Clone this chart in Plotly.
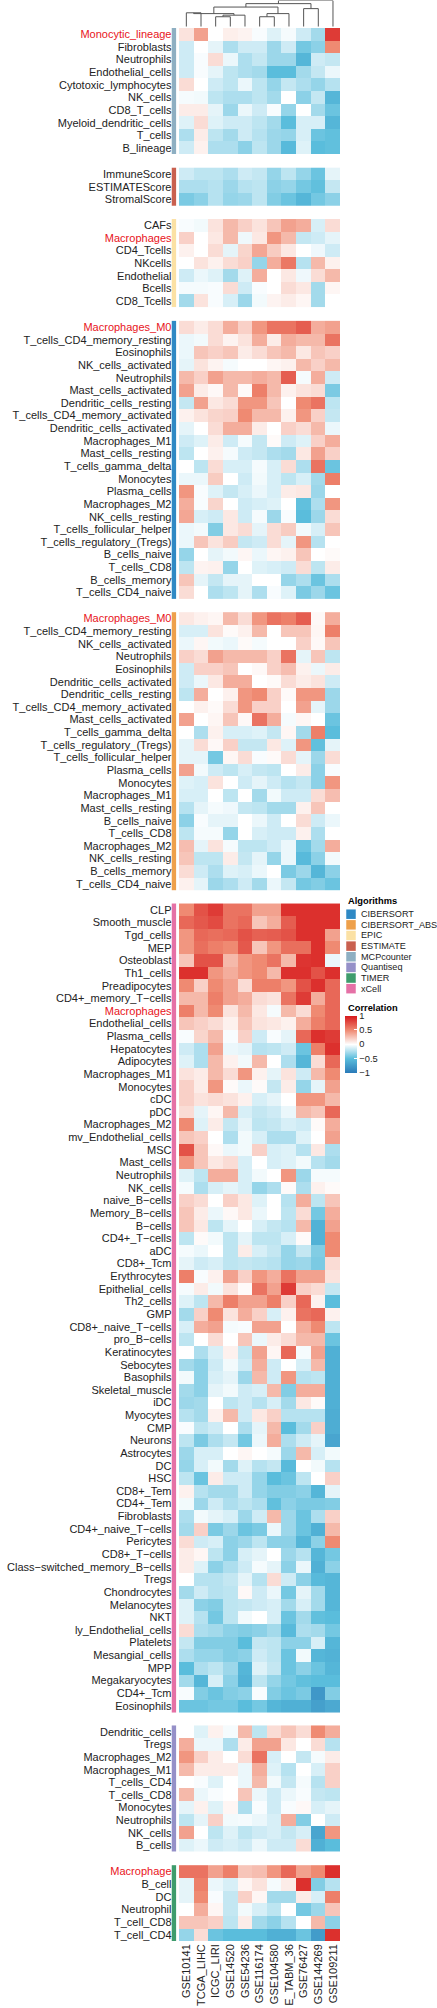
import plotly.graph_objects as go

W, H = 437, 2008
M = "\u2212"

datasets = ["GSE10141", "TCGA_LIHC", "ICGC_LIRI", "GSE14520", "GSE54236", "GSE116174",
            "GSE104580", "E_TABM_36", "GSE76427", "GSE144269", "GSE109211"]

# ---------------- MCPcounter ----------------
mcp_rows = ["Monocytic_lineage", "Fibroblasts", "Neutrophils", "Endothelial_cells", "Cytotoxic_lymphocytes",
            "NK_cells", "CD8_T_cells", "Myeloid_dendritic_cells", "T_cells", "B_lineage"]
mcp_vals = [
    [0.12, 0.4, 0, 0.07, 0.05, -0.02, -0.1, -0.03, -0.15, -0.28, 0.85],
    [-0.15, 0, -0.08, -0.25, -0.15, -0.15, -0.3, -0.15, -0.42, -0.35, 0.5],
    [-0.15, -0.02, 0.15, -0.06, -0.25, -0.18, -0.3, -0.3, -0.55, -0.15, -0.18],
    [-0.15, -0.02, -0.08, -0.2, -0.25, -0.28, -0.5, -0.5, -0.28, -0.18, -0.06],
    [0.15, 0, -0.15, -0.2, -0.06, -0.2, -0.32, -0.18, -0.25, -0.32, -0.22],
    [-0.03, -0.04, -0.2, -0.25, -0.25, -0.2, -0.28, 0, -0.35, -0.18, -0.55],
    [0.08, 0.08, -0.08, -0.3, -0.06, -0.15, -0.02, -0.32, 0, -0.28, -0.45],
    [-0.1, 0.15, -0.1, -0.15, -0.15, -0.2, -0.28, -0.5, -0.12, -0.12, -0.55],
    [-0.25, 0.08, -0.2, -0.28, -0.15, -0.22, -0.3, -0.32, -0.12, -0.45, -0.48],
    [-0.15, 0.06, -0.25, -0.25, -0.35, -0.2, -0.3, -0.52, -0.1, -0.5, -0.48],
]

# ---------------- ESTIMATE ----------------
est_rows = ["ImmuneScore", "ESTIMATEScore", "StromalScore"]
est_vals = [
    [-0.15, -0.2, -0.2, -0.25, -0.15, -0.18, -0.32, -0.2, -0.32, -0.45, -0.08],
    [-0.25, -0.25, -0.22, -0.3, -0.22, -0.2, -0.35, -0.32, -0.42, -0.48, -0.18],
    [-0.4, -0.35, -0.22, -0.32, -0.3, -0.2, -0.38, -0.45, -0.55, -0.42, -0.35],
]

# ---------------- EPIC ----------------
epic_rows = ["CAFs", "Macrophages", "CD4_Tcells", "NKcells", "Endothelial", "Bcells", "CD8_Tcells"]
epic_vals = [
    [-0.02, -0.04, 0.12, 0.3, 0.2, 0.12, 0.25, 0.4, 0.35, -0.12, 0.15],
    [0.2, 0, 0.1, 0.3, -0.05, 0.1, 0.45, 0.3, -0.18, -0.15, -0.08],
    [0.06, 0, 0.15, -0.08, 0.18, 0.38, 0.22, 0.1, 0, -0.05, -0.15],
    [0, 0.12, 0.06, 0.15, 0.2, -0.32, 0.35, 0.58, -0.22, 0.3, 0.06],
    [-0.15, -0.06, -0.1, -0.28, -0.1, 0.35, 0, 0.1, -0.05, 0.15, 0.3],
    [-0.03, -0.03, -0.02, 0.15, -0.15, -0.02, 0, 0.15, 0.1, -0.28, 0.04],
    [-0.28, 0.12, -0.02, -0.12, -0.3, -0.04, 0.05, 0.08, 0.04, -0.28, None],
]

# ---------------- CIBERSORT ----------------
cib_rows = ["Macrophages_M0", "T_cells_CD4_memory_resting", "Eosinophils", "NK_cells_activated", "Neutrophils",
            "Mast_cells_activated", "Dendritic_cells_resting", "T_cells_CD4_memory_activated",
            "Dendritic_cells_activated", "Macrophages_M1", "Mast_cells_resting", "T_cells_gamma_delta",
            "Monocytes", "Plasma_cells", "Macrophages_M2", "NK_cells_resting", "T_cells_follicular_helper",
            "T_cells_regulatory_(Tregs)", "B_cells_naive", "T_cells_CD8", "B_cells_memory", "T_cells_CD4_naive"]
cib_vals = [
    [0.15, 0.08, 0.15, 0.35, 0.2, 0.45, 0.6, 0.6, 0.7, 0.35, 0.4],
    [-0.06, -0.04, 0.15, 0.05, 0.12, 0.35, 0.08, 0.35, 0.3, 0.3, 0.6],
    [-0.06, 0.25, 0.2, 0.25, 0.08, 0.15, 0.25, 0.3, 0.1, 0.25, 0.2],
    [-0.08, 0.12, 0.05, -0.03, 0, 0, 0.04, 0.06, 0.3, 0.2, 0.3],
    [0.3, 0.2, 0.4, 0.3, 0.3, 0.35, 0.3, 0.7, -0.03, 0.35, -0.15],
    [0.4, 0.08, 0.03, 0.3, 0.02, 0.55, 0.3, 0.06, 0.12, 0.15, -0.4],
    [-0.18, 0.4, 0.1, 0.15, 0.45, 0.45, 0.25, 0, 0.5, 0.6, -0.2],
    [0.06, 0.12, 0.18, 0.2, 0.5, 0.3, 0.3, 0.06, 0.45, 0.2, -0.18],
    [-0.08, 0, 0.15, 0.35, 0.35, 0.08, 0, 0.2, 0.15, 0.3, -0.06],
    [-0.15, -0.1, 0.08, -0.15, -0.03, -0.18, 0.02, -0.15, -0.1, 0.2, 0.35],
    [-0.2, 0, 0.06, -0.03, -0.15, -0.18, -0.25, -0.28, 0.1, 0.4, 0.2],
    [0, -0.2, 0.15, -0.12, -0.12, -0.03, -0.12, 0.15, -0.25, 0.6, -0.45],
    [-0.06, -0.06, 0.22, 0, -0.15, -0.04, -0.12, -0.2, -0.12, -0.28, 0.55],
    [0.45, -0.02, -0.1, -0.18, -0.12, -0.06, -0.12, 0.08, 0.1, -0.3, 0],
    [0.35, -0.02, 0.18, 0, -0.15, -0.12, -0.1, 0, -0.48, -0.25, 0.45],
    [0.38, -0.12, -0.15, 0.1, -0.15, -0.03, -0.3, -0.02, -0.5, -0.3, 0.15],
    [-0.06, -0.04, -0.38, 0.1, 0.15, -0.08, 0.15, 0.22, -0.04, -0.12, 0.25],
    [-0.06, 0.25, 0.12, 0.22, -0.18, -0.15, 0.15, -0.08, 0.45, -0.22, 0],
    [-0.32, 0, -0.08, -0.04, 0.04, -0.06, 0.04, 0.06, 0.25, 0, 0.02],
    [-0.2, 0.05, 0.06, -0.32, 0, -0.1, -0.12, -0.15, 0.15, -0.2, 0.08],
    [0.25, -0.08, -0.18, -0.08, -0.08, 0, 0, -0.32, -0.25, -0.45, -0.25],
    [0.15, 0, -0.25, -0.2, -0.08, -0.25, -0.02, -0.1, -0.4, -0.3, -0.45],
]

# ---------------- CIBERSORT_ABS ----------------
abs_rows = ["Macrophages_M0", "T_cells_CD4_memory_resting", "NK_cells_activated", "Neutrophils", "Eosinophils",
            "Dendritic_cells_activated", "Dendritic_cells_resting", "T_cells_CD4_memory_activated",
            "Mast_cells_activated", "T_cells_gamma_delta", "T_cells_regulatory_(Tregs)",
            "T_cells_follicular_helper", "Plasma_cells", "Monocytes", "Macrophages_M1", "Mast_cells_resting",
            "B_cells_naive", "T_cells_CD8", "Macrophages_M2", "NK_cells_resting", "B_cells_memory",
            "T_cells_CD4_naive"]
abs_vals = [
    [0.1, 0.06, 0.04, 0.3, 0.15, 0.45, 0.6, 0.55, 0.7, 0.03, 0.35],
    [-0.12, -0.12, 0.12, 0.02, 0.06, 0.3, 0, 0.25, 0.25, 0.04, 0.55],
    [-0.06, 0.04, -0.04, -0.06, 0.02, -0.03, 0, 0, 0.2, 0.03, 0.25],
    [0.2, 0.15, 0.4, 0.3, 0.3, 0.3, 0.2, 0.6, -0.08, 0.25, -0.2],
    [-0.15, 0.2, 0.2, 0.25, 0, 0.03, 0.2, 0.28, 0.06, -0.06, 0.08],
    [-0.15, -0.06, 0.1, 0.35, 0.35, 0, 0.02, 0.15, 0.08, 0.12, -0.15],
    [-0.2, 0.35, 0, 0.06, 0.45, 0.5, 0.2, 0.02, 0.45, 0.45, -0.3],
    [0, 0.06, 0.02, 0.15, 0.45, 0.2, 0.2, 0, 0.4, -0.08, -0.3],
    [0.4, 0, 0.04, 0.25, 0.03, 0.6, 0.35, -0.03, 0.04, 0, -0.45],
    [0, -0.25, 0.06, -0.12, -0.12, -0.1, -0.18, 0.04, -0.28, 0.55, -0.5],
    [-0.08, 0.15, 0.03, 0.2, -0.18, -0.18, 0.1, -0.1, 0.45, -0.48, -0.08],
    [-0.08, -0.08, -0.42, 0.04, 0.15, -0.02, 0.02, 0.15, -0.08, -0.3, 0.15],
    [0.4, -0.04, -0.15, -0.2, -0.12, -0.18, -0.2, 0, 0.08, -0.35, -0.02],
    [-0.1, -0.12, 0.12, 0, -0.15, -0.08, -0.15, -0.22, -0.18, -0.35, 0.45],
    [-0.12, -0.12, 0, -0.2, 0, -0.28, -0.04, -0.15, -0.15, 0.15, 0.28],
    [-0.22, -0.08, -0.03, -0.05, -0.18, -0.2, -0.28, -0.28, 0.06, 0.25, 0],
    [-0.35, -0.02, -0.08, -0.08, 0, -0.06, -0.15, 0, 0.15, -0.15, -0.06],
    [-0.2, -0.03, -0.03, -0.32, 0, -0.12, -0.15, -0.15, 0.06, -0.25, 0],
    [0.28, -0.08, 0.12, -0.03, -0.2, -0.2, -0.15, -0.06, -0.45, -0.28, 0.35],
    [0.25, -0.2, -0.2, 0.08, -0.18, -0.08, -0.32, -0.06, -0.52, -0.35, -0.04],
    [0.15, -0.15, -0.25, -0.1, -0.12, -0.06, 0, -0.4, -0.3, -0.55, -0.35],
    [0.06, -0.08, -0.3, -0.25, -0.15, -0.28, -0.06, -0.18, -0.42, -0.38, -0.45],
]

# ---------------- xCell ----------------
xcell_rows = ["CLP", "Smooth_muscle", "Tgd_cells", "MEP", "Osteoblast", "Th1_cells", "Preadipocytes",
              "CD4+_memory_T" + M + "cells", "Macrophages", "Endothelial_cells", "Plasma_cells", "Hepatocytes",
              "Adipocytes", "Macrophages_M1", "Monocytes", "cDC", "pDC", "Macrophages_M2",
              "mv_Endothelial_cells", "MSC", "Mast_cells", "Neutrophils", "NK_cells", "naive_B" + M + "cells",
              "Memory_B" + M + "cells", "B" + M + "cells", "CD4+_T" + M + "cells", "aDC", "CD8+_Tcm",
              "Erythrocytes", "Epithelial_cells", "Th2_cells", "GMP", "CD8+_naive_T" + M + "cells",
              "pro_B" + M + "cells", "Keratinocytes", "Sebocytes", "Basophils", "Skeletal_muscle", "iDC",
              "Myocytes", "CMP", "Neurons", "Astrocytes", "DC", "HSC", "CD8+_Tem", "CD4+_Tem", "Fibroblasts",
              "CD4+_naive_T" + M + "cells", "Pericytes", "CD8+_T" + M + "cells",
              "Class" + M + "switched_memory_B" + M + "cells", "Tregs", "Chondrocytes", "Melanocytes", "NKT",
              "ly_Endothelial_cells", "Platelets", "Mesangial_cells", "MPP", "Megakaryocytes", "CD4+_Tcm",
              "Eosinophils"]
xcell_vals = [
    [0.5, 0.75, 0.85, 0.6, 0.6, 0.4, 0.4, 0.9, 0.9, 0.9, 0.9],
    [0.65, 0.72, 0.78, 0.6, 0.65, 0.25, 0.35, 0.7, 0.9, 0.9, 0.9],
    [0.45, 0.65, 0.62, 0.65, 0.75, 0.68, 0.7, 0.75, 0.9, 0.9, 0.4],
    [0.45, 0.62, 0.55, 0.5, 0.72, 0.25, 0.45, 0.62, 0.62, 0.9, 0.5],
    [0.25, 0.75, 0.75, 0.3, 0.45, 0.5, 0.6, 0.3, 0.88, 0.9, -0.06],
    [0.9, 0.9, 0.45, 0.35, 0.45, 0.5, 0.3, 0.9, 0.9, 0.75, 0.9],
    [0.5, 0.2, 0.5, 0.4, 0.15, 0.55, 0.55, 0.45, 0.75, 0.9, 0.65],
    [0.3, 0.3, 0.55, 0.4, 0.35, 0.15, 0.12, 0.6, 0.85, 0.35, 0.65],
    [0.55, 0.3, 0.5, 0.12, 0.3, 0.1, -0.03, 0.3, 0.15, 0.5, 0.65],
    [0.25, 0.2, 0.15, 0.06, 0.25, 0.12, 0.1, 0.06, 0.35, 0.55, 0.65],
    [-0.02, 0.18, 0.3, -0.02, 0.2, -0.15, -0.02, -0.08, 0.65, 0.9, 0.85],
    [-0.15, -0.25, 0.4, -0.06, -0.08, -0.22, -0.2, -0.15, -0.45, 0.55, 0.9],
    [-0.1, -0.25, 0.3, 0.06, -0.04, 0.3, 0, -0.25, -0.55, 0.15, 0.65],
    [0.12, 0.08, 0.3, 0.15, 0.45, 0.06, -0.08, 0.12, -0.15, 0.3, 0.5],
    [0.2, 0.08, 0.45, 0.02, -0.06, 0.02, -0.18, 0.08, -0.32, -0.08, 0.4],
    [0.2, 0.12, 0.15, 0.12, 0.06, -0.12, -0.08, 0, 0.45, 0.45, 0.3],
    [0.15, -0.08, 0.04, 0.3, -0.12, -0.18, -0.15, -0.06, 0.3, 0.25, 0.65],
    [0.5, -0.1, 0.08, -0.18, -0.08, -0.2, -0.18, -0.12, -0.15, 0.02, 0.35],
    [0.25, 0.2, 0, -0.25, -0.04, -0.12, -0.25, -0.25, -0.1, 0, 0.4],
    [0.75, 0.25, 0.03, -0.06, -0.04, 0.2, -0.12, -0.1, -0.22, 0.1, -0.25],
    [0.45, 0.25, 0.1, 0.15, -0.12, 0, -0.12, -0.1, -0.04, -0.22, -0.28],
    [-0.1, -0.2, 0.35, 0.35, -0.12, -0.04, 0, 0.45, -0.3, -0.03, -0.03],
    [-0.03, -0.25, -0.12, -0.08, -0.12, -0.32, -0.25, 0.02, -0.25, 0.06, 0.02],
    [0.2, 0.15, 0, 0.2, 0.1, -0.1, 0, -0.22, 0.35, -0.2, 0.25],
    [0.25, 0.08, -0.06, 0.03, 0.1, -0.06, 0, -0.2, 0.15, -0.42, 0.35],
    [0.25, 0.1, -0.2, -0.08, 0, -0.12, -0.18, -0.22, 0.3, -0.58, 0.4],
    [-0.2, 0.02, -0.04, -0.2, -0.08, -0.2, -0.2, -0.12, 0.02, -0.58, 0.5],
    [-0.03, -0.06, 0, -0.2, 0.08, -0.12, -0.18, -0.32, -0.18, -0.38, 0.5],
    [-0.08, -0.15, -0.12, -0.2, -0.18, -0.2, -0.22, -0.32, -0.3, -0.4, 0.15],
    [0.55, -0.02, 0.06, 0.4, 0.2, 0.45, 0.35, 0.6, 0.4, 0.4, 0.12],
    [-0.03, 0.08, -0.04, 0.12, 0.02, 0.6, 0.4, 0.85, 0.2, 0.15, -0.18],
    [-0.1, -0.2, 0.3, 0.55, 0.4, 0.4, 0.55, 0.2, 0.65, 0.06, -0.5],
    [-0.28, 0.2, 0.5, 0.12, 0.35, 0.2, -0.12, 0.06, 0.6, 0.65, 0.06],
    [-0.12, 0.35, 0.4, -0.03, -0.02, 0.4, 0.4, 0, 0.35, 0.5, -0.2],
    [-0.2, 0, 0.15, 0, 0.25, -0.06, 0.08, 0.15, 0.3, 0.3, -0.45],
    [0, -0.25, -0.12, 0.06, -0.18, 0.4, 0.04, 0.65, -0.03, 0.4, -0.6],
    [-0.28, -0.35, -0.15, -0.04, -0.15, 0.35, -0.15, 0, -0.12, 0.3, -0.6],
    [-0.04, -0.35, -0.12, -0.08, -0.3, 0.3, -0.15, 0.45, -0.22, -0.2, -0.6],
    [-0.28, -0.35, -0.08, -0.04, -0.15, -0.12, 0.3, -0.38, 0.35, 0.35, -0.6],
    [-0.3, -0.28, 0, -0.2, -0.15, -0.22, -0.12, -0.28, 0.1, 0.02, -0.6],
    [-0.22, -0.28, 0.06, 0.3, -0.15, 0.1, 0.2, -0.22, -0.22, -0.22, -0.62],
    [-0.02, -0.2, -0.15, 0, -0.25, -0.08, 0.3, -0.5, -0.28, 0.2, -0.62],
    [-0.2, -0.4, -0.25, -0.18, -0.42, -0.06, 0.35, -0.25, -0.15, -0.08, -0.68],
    [-0.3, -0.12, -0.12, 0, 0.04, 0, -0.03, -0.3, 0.3, -0.12, -0.04],
    [-0.32, -0.12, -0.04, -0.28, -0.1, -0.22, -0.18, -0.52, 0, -0.04, -0.22],
    [-0.2, -0.45, 0.08, -0.15, -0.15, -0.32, -0.5, -0.45, -0.2, 0, 0.2],
    [0.06, -0.22, -0.28, -0.28, -0.15, -0.32, -0.38, -0.38, -0.35, -0.55, -0.08],
    [-0.04, -0.3, -0.15, -0.25, -0.2, -0.25, -0.48, -0.35, -0.4, -0.4, -0.38],
    [-0.25, -0.04, -0.08, -0.12, -0.3, -0.15, 0.3, -0.3, -0.45, -0.25, 0.2],
    [-0.28, 0.2, -0.4, -0.3, -0.45, -0.4, -0.06, -0.3, -0.45, -0.6, 0.3],
    [0.15, -0.15, -0.12, -0.35, -0.3, -0.2, -0.35, -0.35, -0.55, -0.35, 0.5],
    [0.08, 0.04, -0.2, -0.35, -0.12, -0.08, 0, -0.3, -0.22, -0.55, -0.42],
    [0.08, -0.1, -0.35, -0.25, -0.15, -0.03, -0.08, -0.35, -0.06, -0.6, -0.35],
    [0, -0.22, -0.22, -0.18, -0.08, -0.22, 0.15, -0.15, -0.35, -0.52, -0.55],
    [-0.28, -0.15, -0.22, -0.2, 0.03, -0.15, -0.06, -0.42, -0.08, -0.28, -0.55],
    [-0.1, -0.35, -0.38, -0.2, -0.18, -0.15, -0.12, -0.28, -0.12, -0.28, -0.55],
    [-0.1, -0.22, -0.42, -0.2, -0.04, 0, -0.12, -0.45, -0.28, -0.48, -0.5],
    [0.15, -0.25, -0.28, -0.35, -0.38, -0.35, -0.28, -0.52, -0.25, -0.28, -0.42],
    [-0.18, -0.38, -0.38, -0.38, -0.5, -0.18, -0.2, -0.35, -0.35, -0.12, -0.55],
    [-0.25, -0.32, -0.32, -0.38, -0.35, -0.15, -0.2, -0.45, -0.04, -0.55, -0.58],
    [-0.5, -0.25, -0.2, -0.3, -0.55, -0.1, -0.18, -0.45, -0.35, -0.45, -0.55],
    [-0.28, -0.55, -0.12, -0.35, -0.58, -0.2, -0.32, -0.42, -0.48, -0.5, -0.5],
    [-0.02, -0.38, -0.45, -0.38, -0.35, -0.02, -0.38, -0.45, -0.4, -0.78, -0.38],
    [-0.45, -0.45, -0.42, -0.42, -0.5, -0.42, -0.55, -0.6, -0.6, -0.72, -0.65],
]

# ---------------- Quantiseq ----------------
quanti_rows = ["Dendritic_cells", "Tregs", "Macrophages_M2", "Macrophages_M1", "T_cells_CD4", "T_cells_CD8",
               "Monocytes", "Neutrophils", "NK_cells", "B_cells"]
quanti_vals = [
    [0, -0.1, 0.06, -0.03, 0.3, -0.2, 0.15, 0.25, 0.15, 0.5, 0.35],
    [0.35, -0.06, -0.06, -0.25, 0.08, 0.4, 0.4, 0.1, 0, 0.15, -0.22],
    [0.45, 0.2, 0.08, 0, 0.15, 0.6, -0.12, 0, -0.18, -0.03, 0.08],
    [0.3, 0.08, 0.08, 0.08, -0.06, 0.35, -0.1, -0.22, 0, -0.12, 0.2],
    [0, -0.02, -0.1, 0, -0.06, 0.3, -0.04, -0.18, -0.03, -0.22, 0.2],
    [0.3, -0.06, -0.02, 0, 0.25, -0.06, -0.15, -0.06, -0.02, -0.18, -0.2],
    [-0.08, 0.06, -0.1, 0.04, -0.25, -0.02, -0.15, -0.02, 0.03, -0.12, -0.08],
    [-0.2, -0.08, 0.2, -0.04, -0.03, -0.06, -0.12, 0.35, -0.38, 0, -0.15],
    [0.4, 0, -0.2, -0.1, -0.2, -0.15, -0.12, -0.18, -0.12, -0.68, 0.45],
    [-0.1, -0.06, -0.15, -0.12, -0.15, -0.06, -0.15, -0.15, 0.15, -0.6, -0.5],
]

# ---------------- TIMER ----------------
timer_rows = ["Macrophage", "B_cell", "DC", "Neutrophil", "T_cell_CD8", "T_cell_CD4"]
timer_vals = [
    [0.6, 0.6, 0.4, 0.55, 0.25, 0.28, 0.45, 0.65, 0.4, 0.5, 0.9],
    [-0.08, 0.55, -0.06, -0.12, 0.04, 0.12, -0.03, 0.08, 0.9, -0.38, -0.22],
    [-0.08, 0.5, -0.02, -0.18, 0.2, 0.04, -0.28, -0.28, 0.08, -0.12, 0.55],
    [0, 0.35, 0.04, -0.18, -0.04, -0.12, -0.2, 0, -0.42, -0.3, 0.25],
    [0.25, 0.25, 0.2, -0.2, 0.08, -0.28, -0.35, -0.22, 0, 0.3, -0.35],
    [-0.32, 0.15, -0.45, -0.5, -0.5, -0.5, -0.6, -0.6, -0.45, -0.75, 0.9],
]

block_order = ["MCPcounter", "ESTIMATE", "EPIC", "CIBERSORT", "CIBERSORT_ABS", "xCell", "Quantiseq", "TIMER"]
block_rows = {"MCPcounter": mcp_rows, "ESTIMATE": est_rows, "EPIC": epic_rows, "CIBERSORT": cib_rows,
              "CIBERSORT_ABS": abs_rows, "xCell": xcell_rows, "Quantiseq": quanti_rows, "TIMER": timer_rows}
block_vals = {"MCPcounter": mcp_vals, "ESTIMATE": est_vals, "EPIC": epic_vals, "CIBERSORT": cib_vals,
              "CIBERSORT_ABS": abs_vals, "xCell": xcell_vals, "Quantiseq": quanti_vals, "TIMER": timer_vals}

legend_order = ["CIBERSORT", "CIBERSORT_ABS", "EPIC", "ESTIMATE", "MCPcounter", "Quantiseq", "TIMER", "xCell"]
algo_colors = {"CIBERSORT": "#2F89C4", "CIBERSORT_ABS": "#EEA04B", "EPIC": "#FBE1A4", "ESTIMATE": "#C9604F",
               "MCPcounter": "#8EAFC2", "Quantiseq": "#9590C8", "TIMER": "#3E9C6C", "xCell": "#E571A6"}

highlight = {"Monocytic_lineage", "Macrophages", "Macrophages_M0", "Macrophage"}

# column dendrogram: merges (left, right, height); ids >= 11 refer to earlier merges
dendro_merges = [
    (0, 1, 0.53),
    (2, 3, 0.38),
    (12, 4, 0.44),
    (11, 13, 0.5),
    (5, 6, 0.38),
    (15, 7, 0.5),
    (14, 16, 0.75),
    (8, 9, 0.69),
    (17, 18, 0.88),
    (19, 10, 1.0),
]

# ---------------- layout geometry (pixels) ----------------
TOP, BOTTOM = 28.0, 1941.0
GAP = 13.4
nrows = sum(len(block_rows[b]) for b in block_order)
ROWH = (BOTTOM - TOP - GAP * (len(block_order) - 1)) / nrows
HM_L, HM_R = 179.0, 340.3
AN_L, AN_R = 171.5, 176.2
RED = "#E8141B"
FONT = "Arial, Liberation Sans, sans-serif"

colorscale = [[0.0, "#2A7AB8"], [0.25, "#5ABDDC"], [0.5, "#FFFFFF"], [0.75, "#EF8A72"], [1.0, "#D7191C"]]

fig = go.Figure()
tickvals, ticktext = [], []
y = TOP
for b in block_order:
    rows = block_rows[b]
    ys = [y + ROWH * (i + 0.5) for i in range(len(rows))]
    fig.add_trace(go.Heatmap(z=block_vals[b], x=list(range(len(datasets))), y=ys, coloraxis="coloraxis",
                             xaxis="x", yaxis="y", hoverinfo="skip"))
    c = algo_colors[b]
    fig.add_trace(go.Heatmap(z=[[1] for _ in rows], x=[0], y=ys, xaxis="x2", yaxis="y",
                             colorscale=[[0, c], [1, c]], showscale=False, hoverinfo="skip"))
    for r, yy in zip(rows, ys):
        tickvals.append(yy)
        ticktext.append(f'<span style="color:{RED}">{r}</span>' if r in highlight else r)
    y += ROWH * len(rows) + GAP

# dendrogram
nleaf = len(datasets)
pos = {i: (float(i), 0.0) for i in range(nleaf)}
dx, dy = [], []
for k, (a, bb, h) in enumerate(dendro_merges):
    xa, ha = pos[a]
    xb, hb = pos[bb]
    dx += [xa, xa, xb, xb, None]
    dy += [ha, h, h, hb, None]
    pos[nleaf + k] = ((xa + xb) / 2, h)
fig.add_trace(go.Scatter(x=dx, y=dy, mode="lines", line=dict(color="#555555", width=1),
                         xaxis="x3", yaxis="y3", hoverinfo="skip", showlegend=False))

# algorithm legend (pixel overlay axes)
LX, LY0, LDY = 351.0, 914.2, 10.64
fig.add_trace(go.Scatter(x=[LX] * len(legend_order), y=[LY0 + LDY * i for i in range(len(legend_order))],
                         mode="markers", marker=dict(symbol="square", size=9.5,
                                                     color=[algo_colors[a] for a in legend_order],
                                                     line=dict(width=0)),
                         xaxis="x4", yaxis="y4", hoverinfo="skip", showlegend=False))
annotations = [dict(x=345.5, y=900.5, xref="x4", yref="y4", text="<b>Algorithms</b>", showarrow=False,
                    xanchor="left", yanchor="middle", font=dict(size=9.3, color="black", family=FONT))]
for i, a in enumerate(legend_order):
    annotations.append(dict(x=358.5, y=LY0 + LDY * i, xref="x4", yref="y4", text=a, showarrow=False,
                            xanchor="left", yanchor="middle", font=dict(size=9.1, color="#222", family=FONT)))
annotations.append(dict(x=345.5, y=1007.5, xref="x4", yref="y4", text="<b>Correlation</b>", showarrow=False,
                        xanchor="left", yanchor="middle", font=dict(size=9.3, color="black", family=FONT)))

def px(v):
    return v / W

def py(v):
    return 1 - v / H

fig.update_layout(
    width=W, height=H, margin=dict(l=0, r=0, t=0, b=0),
    paper_bgcolor="white", plot_bgcolor="rgba(0,0,0,0)",
    font=dict(family=FONT, size=11, color="black"),
    showlegend=False,
    coloraxis=dict(colorscale=colorscale, cmin=-1, cmax=1,
                   colorbar=dict(x=px(345), xanchor="left", y=py(1015.5), yanchor="top",
                                 lenmode="pixels", len=57, thickness=11.5, xpad=0, ypad=0, outlinewidth=0,
                                 tickvals=[-1, -0.5, 0, 0.5, 1],
                                 ticktext=[M + "1", M + "0.5", "0", "0.5", "1"],
                                 ticks="inside", ticklen=3, tickcolor="white",
                                 tickfont=dict(size=9.3, family=FONT, color="#222"))),
    xaxis=dict(domain=[px(HM_L), px(HM_R)], range=[-0.5, nleaf - 0.5], anchor="y",
               tickvals=list(range(nleaf)), ticktext=datasets, tickangle=-90,
               tickfont=dict(size=11, family=FONT, color="#222"), showgrid=False, zeroline=False,
               showline=False, ticks=""),
    xaxis2=dict(domain=[px(AN_L), px(AN_R)], range=[-0.5, 0.5], anchor="y", visible=False),
    yaxis=dict(domain=[py(BOTTOM), py(TOP)], range=[BOTTOM, TOP], anchor="free", position=px(AN_L),
               tickvals=tickvals, ticktext=ticktext, tickfont=dict(size=11, family=FONT, color="#222"),
               showgrid=False, zeroline=False, showline=False, ticks=""),
    xaxis3=dict(domain=[px(HM_L), px(HM_R)], range=[-0.5, nleaf - 0.5], anchor="y3", visible=False),
    yaxis3=dict(domain=[py(26.7), py(0.5)], range=[0, 1], anchor="x3", visible=False),
    xaxis4=dict(domain=[0, 1], range=[0, W], anchor="y4", visible=False),
    yaxis4=dict(domain=[0, 1], range=[H, 0], anchor="x4", visible=False),
    annotations=annotations,
)

fig.write_html("out.html")
